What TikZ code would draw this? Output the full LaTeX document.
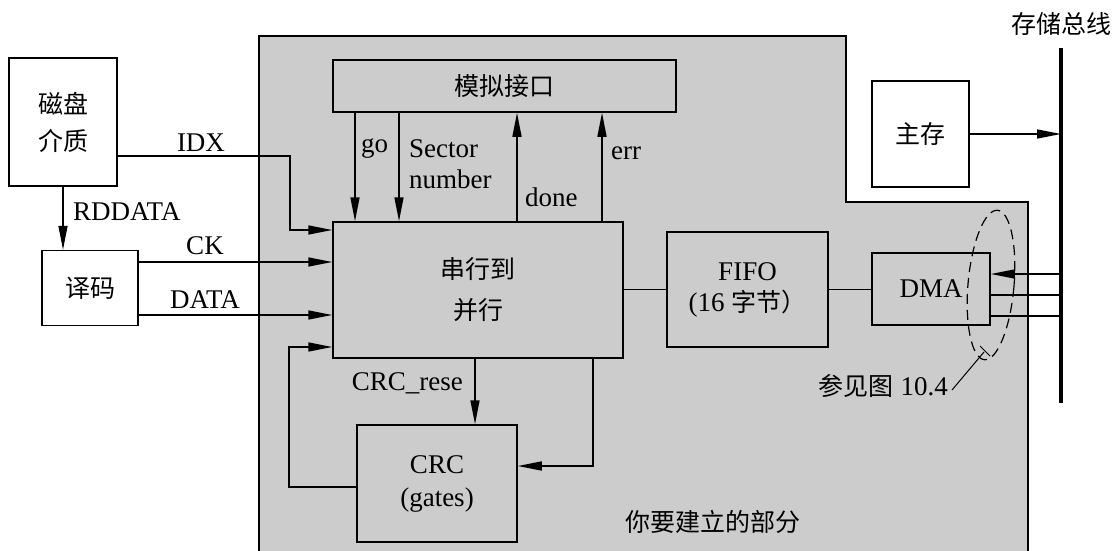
\documentclass[tikz,border=0pt]{standalone}
\usepackage{fontspec}
\setmainfont{Liberation Serif}
\newfontfamily\cjk{Noto Sans CJK SC}
\usepackage{tikz}
\usetikzlibrary{
  arrows.meta,
  positioning,
}
\definecolor{panelgray}{gray}{0.8}
\tikzset{
  blk/.style = {
    rectangle,
    draw = black,
    line width = 1.5pt,
    align = center,
    inner sep = 0pt
  },
  wht/.style = {
    blk,
    fill = white
  },
  gry/.style = {
    blk,
    fill = panelgray
  },
  sig/.style = {
    line width = 1.5pt,
    -{Triangle[length = 24pt, width = 9pt]}
  },
  wire/.style = {
    line width = 1.5pt
  },
  lbl/.style = {
    inner sep = 0pt
  },
}
\newcommand{\zh}[1]{{\cjk\fontsize{25}{31}\selectfont #1}}

\begin{document}
\begin{tikzpicture}[x = 1pt, y = -1pt, font = \fontsize{27}{31}\selectfont]
  \useasboundingbox (0,0) rectangle (1116,551);
  % the part to be built
  \fill[panelgray] (259,551) -- (259,36) -- (846,36) -- (846,202)
    -- (1028,202) -- (1028,551) -- cycle;
  \draw[wire] (259,551) -- (259,36) -- (846,36) -- (846,202)
    -- (1028,202) -- (1028,551);
  \node[lbl] (part) at (713,522) {\zh{你要建立的部分}};

  % blocks
  \node[wht, minimum width = 108pt, minimum height = 128pt] (disk) at (63,122)
    {\zh{磁盘}\\[6pt]\zh{介质}};
  \node[wht, minimum width = 96pt, minimum height = 75pt] (dec) at (90,288)
    {\zh{译码}};
  \node[gry, minimum width = 343pt, minimum height = 52pt] (ana) at (504.5,86)
    {\zh{模拟接口}};
  \node[gry, minimum width = 290pt, minimum height = 136pt] (s2p) at (478,290)
    {\zh{串行到}\\[10pt]\zh{并行}};
  \node[gry, minimum width = 161pt, minimum height = 115pt] (fifo) at (747.5,289.5)
    {FIFO\\(16 \zh{字节）}};
  \node[gry, minimum width = 118pt, minimum height = 72pt] (dma) at (931,289)
    {DMA};
  \node[gry, minimum width = 160pt, minimum height = 117pt] (crc) at (437,483.5)
    {CRC\\[2pt](gates)};
  \node[wht, minimum width = 97pt, minimum height = 106pt] (mem) at (920.5,134)
    {\zh{主存}};

  % memory bus
  \coordinate (busT) at (1061,48);
  \coordinate (busB) at (1061,403);
  \draw[line width = 4pt] (busT) -- (busB);
  \node[lbl, above = 12pt of busT] (busname) {\zh{存储总线}};

  % disk side
  \draw[sig] (disk.east |- 0,156) -- (290,156) -- (290,230) -- (s2p.west |- 0,230);
  \node[lbl] (idx) at (201,143) {IDX};
  \draw[sig] (disk.south -| 63,0) -- (dec.north -| 63,0);
  \node[lbl, anchor = west] (rd) at (73,212) {RDDATA};
  \draw[sig] (dec.east |- 0,262) -- (s2p.west |- 0,262);
  \node[lbl] (ck) at (205,246) {CK};
  \draw[sig] (dec.east |- 0,315) -- (s2p.west |- 0,315);
  \node[lbl] (data) at (205,300) {DATA};

  % analog interface
  \draw[sig] (ana.south -| 355,0) -- (s2p.north -| 355,0);
  \node[lbl, anchor = west] (go) at (361,148) {go};
  \draw[sig] (ana.south -| 399,0) -- (s2p.north -| 399,0);
  \node[lbl, anchor = west, align = left] (sec) at (409,164) {Sector\\number};
  \draw[sig] (s2p.north -| 517,0) -- (ana.south -| 517,0);
  \node[lbl, anchor = west] (done) at (525,197) {done};
  \draw[sig] (s2p.north -| 602,0) -- (ana.south -| 602,0);
  \node[lbl, anchor = west] (err) at (611,153) {err};

  % data path
  \draw[wire] (s2p.east |- fifo.west) -- (fifo.west);
  \draw[wire] (fifo.east) -- (dma.west |- fifo.east);

  % CRC loop
  \draw[sig] (s2p.south -| 475,0) -- (crc.north -| 475,0);
  \node[lbl, anchor = east] (rese) at (463,383) {CRC\_rese};
  \draw[sig] (s2p.south -| 593,0) -- (593,466) -- (crc.east |- 0,466);
  \draw[sig] (crc.west |- 0,487) -- (289,487) -- (289,347) -- (s2p.west |- 0,347);

  % bus side
  \draw[sig] (mem.east) -- (busT |- mem.east);
  \draw[sig] (busT |- 0,274) -- (dma.east |- 0,274);
  \draw[wire] (dma.east |- 0,295) -- (busT |- 0,295);
  \draw[wire] (dma.east |- 0,316) -- (busT |- 0,316);

  % see figure 10.4
  \draw[line width = 1.2pt, dash pattern = on 10pt off 6pt, rotate around = {-5:(991,285)}]
    (991,285) ellipse [x radius = 23, y radius = 75];
  \draw[line width = 1pt] (980,346) -- (990,356);
  \draw[line width = 1pt] (984,352) -- (952,390);
  \node[lbl, anchor = east] (see) at (948,386) {\zh{参见图} 10.4};
\end{tikzpicture}
\end{document}
